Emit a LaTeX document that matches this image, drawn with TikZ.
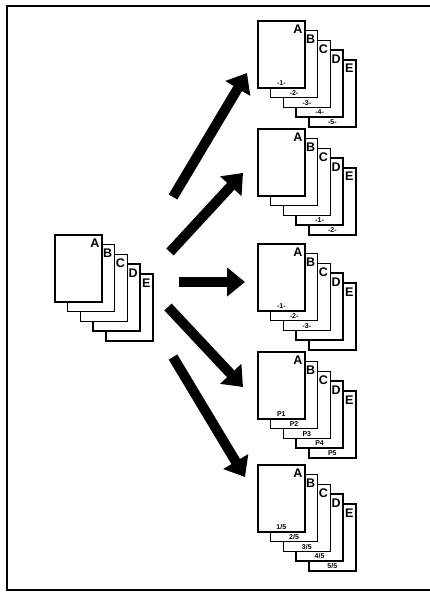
\documentclass[tikz,border=0pt]{standalone}
\usepackage{fontspec}
\setsansfont{Liberation Sans}
\usepackage{tikz}
\usetikzlibrary{arrows.meta, positioning, calc}

\tikzset{
  sheet/.style={draw, fill=white, line width=1.6pt, minimum width=47pt,
    minimum height=67pt, inner sep=0pt, anchor=north west},
  letter/.style={font=\sffamily\bfseries\fontsize{12.5}{12.5}\selectfont, inner sep=0pt, anchor=north east},
  foot/.style={font=\sffamily\bfseries\fontsize{7}{7}\selectfont, inner sep=0pt},
  blockarrow/.style={line width=10pt, -{Triangle[length=18pt, width=28pt]}}
}

% one stack of five sheets: name, x, y, footers of A..E
\newcommand{\sheetstack}[8]{%
  \foreach \k/\lbl/\foot in {4/E/{#8},3/D/{#7},2/C/{#6},1/B/{#5},0/A/{#4}}{
    \node[sheet] (#1-\lbl) at ({#2+\k*12.75},{#3+\k*9.8}) {};
    \node[letter] at ([xshift=-3pt,yshift=-5pt]#1-\lbl.north east) {\lbl};
    \node[foot] at ([yshift=5.5pt]#1-\lbl.south) {\foot};
  }
}

\begin{document}
\begin{tikzpicture}[x=1pt, y=-1pt]
    \useasboundingbox (0,0) rectangle (430,593);
    \draw[line width=1.5pt] (432,6) -- (7,6) -- (7,590) -- (432,590);

    % original set
    \sheetstack{L}{54}{234}{}{}{}{}{}

    % copies
    \sheetstack{R1}{257}{20}{-1-}{-2-}{-3-}{-4-}{-5-}
    \sheetstack{R2}{257}{128}{}{}{}{-1-}{-2-}
    \sheetstack{R3}{257}{243}{-1-}{-2-}{-3-}{}{}
    \sheetstack{R4}{257}{351}{P1}{P2}{P3}{P4}{P5}
    \sheetstack{R5}{257}{464}{1/5}{2/5}{3/5}{4/5}{5/5}

    % arrows
    \coordinate (t1) at (173,197); \coordinate (h1) at (247,73);
    \coordinate (t2) at (170,252); \coordinate (h2) at (243,173);
    \coordinate (t3) at (179,282); \coordinate (h3) at (245,282);
    \coordinate (t4) at (168,307); \coordinate (h4) at (243,387);
    \coordinate (t5) at (173,357); \coordinate (h5) at (245,477);
    \foreach \i in {1,...,5}
      \draw[blockarrow] (t\i) -- (h\i);
\end{tikzpicture}
\end{document}
